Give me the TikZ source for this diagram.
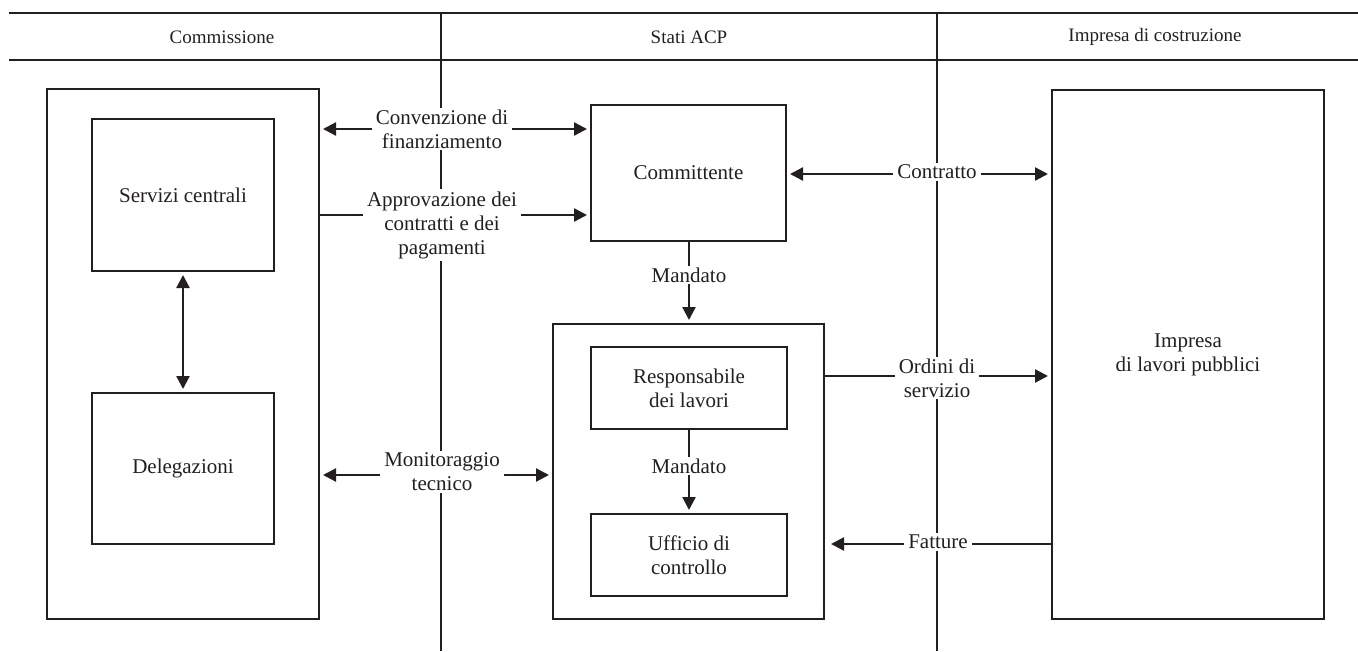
\documentclass[tikz,border=0pt]{standalone}
\usepackage{fontspec}
\setmainfont{Liberation Serif}
\usetikzlibrary{arrows.meta}
\definecolor{ink}{HTML}{231F20}
\tikzset{
  box/.style={draw=ink, line width=2.3pt, inner sep=0pt, outer sep=0pt, align=center,
    font=\fontsize{21}{24}\selectfont, text=ink},
  lbl/.style={fill=white, inner xsep=4pt, inner ysep=2pt, align=center,
    font=\fontsize{21}{24}\selectfont, text=ink},
  hdr/.style={inner sep=0pt, font=\fontsize{19}{22}\selectfont, text=ink},
  sep/.style={draw=ink, line width=1.6pt},
  conn/.style={draw=ink, line width=2.3pt},
  tip/.tip={Triangle[length=13pt,width=13pt]},
  one/.style={conn, -tip, shorten >=4pt},
  two/.style={conn, tip-tip, shorten >=4pt, shorten <=4pt}
}
\begin{document}
\begin{tikzpicture}[x=1pt,y=-1pt]
\useasboundingbox (0,0) rectangle (1358,651);
% header and column separators
\coordinate (hl) at (9,13);
\coordinate (hr) at (1358,13);
\coordinate (bl) at (9,60);
\coordinate (br) at (1358,60);
\draw[sep, line width=2pt] (hl) -- (hr);
\draw[sep, line width=2.8pt] (bl) -- (br);
\coordinate (s1t) at (441,13);
\coordinate (s1b) at (441,651);
\coordinate (s2t) at (937,13);
\coordinate (s2b) at (937,651);
\draw[sep] (s1t) -- (s1b);
\draw[sep] (s2t) -- (s2b);
\node[hdr] (h1) at (222,37) {Commissione};
\node[hdr] (h2) at (689,37) {Stati ACP};
\node[hdr] (h3) at (1155,37) {Impresa di costruzione};
% boxes
\node[box, minimum width=272, minimum height=530] (comm) at (183,354) {};
\node[box, minimum width=182, minimum height=152] (serv) at (183,195) {Servizi centrali};
\node[box, minimum width=182, minimum height=151] (deleg) at (183,468.5) {Delegazioni};
\node[box, minimum width=195, minimum height=136] (commit) at (688.5,173) {Committente};
\node[box, minimum width=271, minimum height=295] (mid) at (688.5,471.5) {};
\node[box, minimum width=196, minimum height=82] (resp) at (689,388) {Responsabile\\dei lavori};
\node[box, minimum width=196, minimum height=82] (uff) at (689,555) {Ufficio di\\controllo};
\node[box, minimum width=272, minimum height=529] (imp) at (1188,354.5) {Impresa\\di lavori pubblici};
% connector levels
\coordinate (yconv) at (442,129);
\coordinate (yappr) at (442,215);
\coordinate (ycontr) at (937,174);
\coordinate (yord) at (937,376);
\coordinate (ymon) at (442,475);
\coordinate (yfatt) at (938,544);
% connectors
\draw[two] (serv.south) -- (deleg.north);
\draw[two] (comm.east |- yconv) -- (commit.west |- yconv);
\draw[one, shorten <=0pt] (comm.east |- yappr) -- (commit.west |- yappr);
\draw[two] (commit.east |- ycontr) -- (imp.west |- ycontr);
\draw[one] (commit.south -| resp.north) -- (mid.north -| resp.north);
\draw[one] (resp.south) -- (uff.north);
\draw[one] (mid.east |- yord) -- (imp.west |- yord);
\draw[two] (comm.east |- ymon) -- (mid.west |- ymon);
\draw[one] (imp.west |- yfatt) -- ([xshift=3pt]mid.east |- yfatt);
% labels
\node[lbl] (lconv) at (442,129) {Convenzione di\\finanziamento};
\node[lbl] (lappr) at (442,225) {Approvazione dei\\contratti e dei\\pagamenti};
\node[lbl] (lcontr) at (937,172) {Contratto};
\node[lbl] (lmand1) at (689,275) {Mandato};
\node[lbl] (lord) at (937,378) {Ordini di\\servizio};
\node[lbl] (lmand2) at (689,466) {Mandato};
\node[lbl] (lmon) at (442,472) {Monitoraggio\\tecnico};
\node[lbl] (lfatt) at (938,542) {Fatture};
\end{tikzpicture}
\end{document}
